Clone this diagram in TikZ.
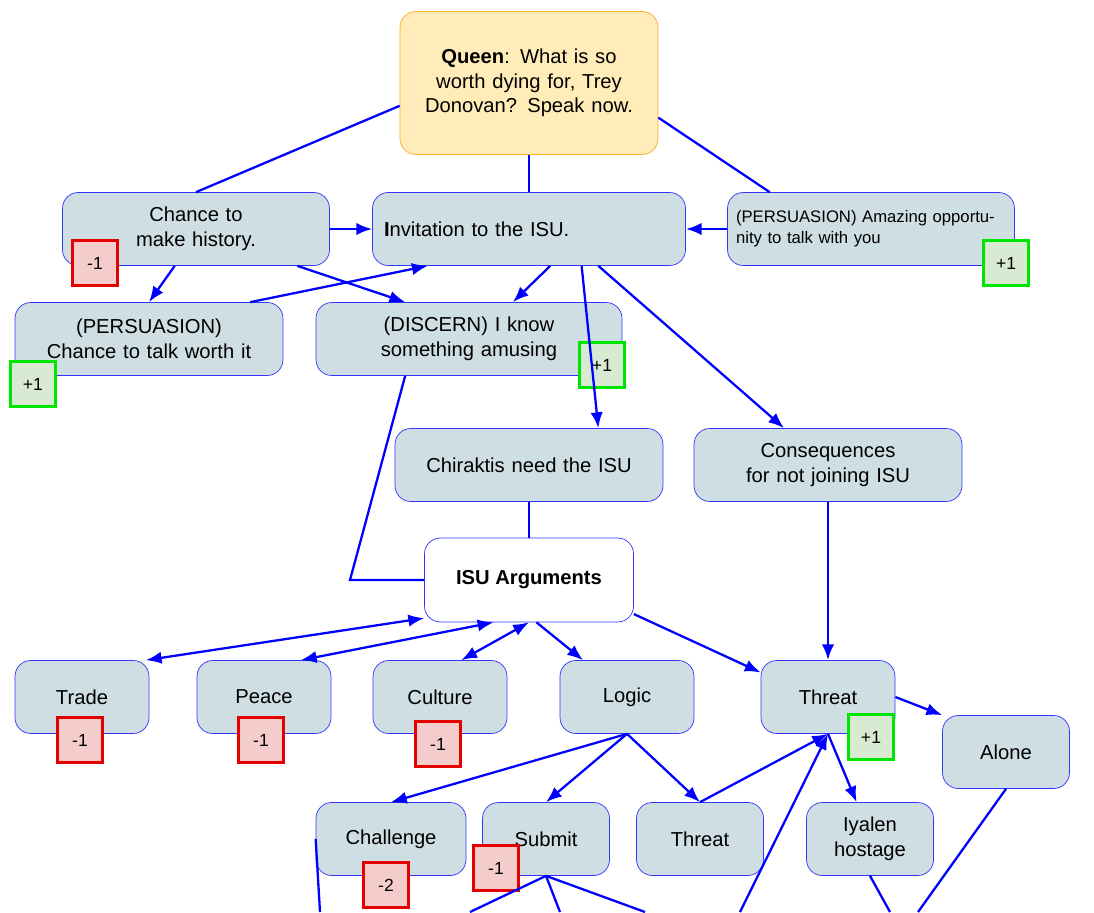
\documentclass[tikz,border=0pt]{standalone}
\usepackage{fontspec}
\setmainfont{Liberation Sans}
\usetikzlibrary{positioning}
\usetikzlibrary{arrows.meta}
\definecolor{boxfill}{RGB}{207,222,227}
\definecolor{qfill}{RGB}{255,236,184}
\definecolor{qdraw}{RGB}{255,170,40}
\definecolor{redfill}{RGB}{244,204,204}
\definecolor{greenfill}{RGB}{217,234,211}
\tikzset{>={Latex[length=9pt,width=7pt]}}
\tikzset{
  opt/.style={draw=blue!80, fill=boxfill, rounded corners=9pt, align=center,
    minimum height=1.46cm, font=\fontsize{11.5}{14}\selectfont},
  loss/.style={draw=red!90!black, line width=1.4pt, fill=redfill, minimum size=0.9cm,
    inner sep=0pt, font=\fontsize{10}{12}\selectfont},
  gain/.style={loss, draw=green!90!black, fill=greenfill},
  link/.style={blue, line width=1.3pt}
}

\begin{document}
\begin{tikzpicture}[x=0.02cm,y=-0.02cm]
\useasboundingbox (0,0) rectangle (1094,912);

% ---------- Top ----------
\node[opt, fill=qfill, draw=qdraw, minimum width=5.16cm, minimum height=2.86cm,
  text width=4.4cm] (queen) at (529,83)
  {\textbf{Queen}: What is so worth dying for, Trey Donovan? Speak now.};

\node[opt, minimum width=5.34cm, text width=4.2cm] (history) at (196,229) {Chance to make history.};
\node[opt, minimum width=6.26cm, text width=5.8cm, align=left] (invite) at (529,229) {\textbf{I}nvitation to the ISU.};
\node[opt, minimum width=5.74cm, text width=5.4cm, align=left,
  font=\fontsize{9.5}{12}\selectfont] (amazing) at (871,229)
  {(PERSUASION) Amazing opportunity to talk with you};
\node[opt, minimum width=5.36cm, text width=5cm] (worth) at (149,339) {(PERSUASION) Chance to talk worth it};
\node[opt, minimum width=6.12cm, text width=4.6cm] (discern) at (469,339) {(DISCERN) I know something amusing};

% ---------- Middle ----------
\node[opt, minimum width=5.36cm, text width=4.4cm] (need) at (529,465) {Chiraktis need the ISU};
\node[opt, minimum width=5.36cm, text width=5cm] (conseq) at (828,465) {Consequences for not joining ISU};
\node[opt, fill=white, minimum width=4.18cm, minimum height=1.68cm] (args) at (529,580) {\textbf{ISU Arguments}};

% ---------- Arguments ----------
\node[opt, minimum width=2.68cm] (trade) at (82,697) {Trade};
\node[opt, minimum width=2.68cm] (peace) at (264,697) {Peace};
\node[opt, minimum width=2.68cm] (culture) at (440,697) {Culture};
\node[opt, minimum width=2.68cm] (logic) at (627,697) {Logic};
\node[opt, minimum width=2.68cm] (threat) at (828,697) {Threat};
\node[opt, minimum width=2.54cm] (alone) at (1006,752) {Alone};
\node[opt, minimum width=3cm] (challenge) at (391,839) {Challenge};
\node[opt, minimum width=2.54cm] (submit) at (546,839) {Submit};
\node[opt, minimum width=2.54cm] (threatb) at (700,839) {Threat};
\node[opt, minimum width=2.54cm, text width=2.2cm] (hostage) at (870,839) {Iyalen hostage};

% ---------- Scores ----------
\node[loss] (s1) at (95,263) {-1};
\node[gain] (s2) at (1006,263) {+1};
\node[gain] (s3) at (33,384) {+1};
\node[gain] (s4) at (602,365) {+1};
\node[loss] (s5) at (80,740) {-1};
\node[loss] (s6) at (261,740) {-1};
\node[loss] (s7) at (438,744) {-1};
\node[gain] (s8) at (871,737) {+1};
\node[loss] (s9) at (386,885) {-2};
\node[loss] (s10) at (496,868) {-1};

% ---------- Links ----------
\draw[link] (queen.190) -- (history.north);
\draw[link] (queen.south) -- (invite.north);
\draw[link] (queen.-15) -- (amazing.160);
\draw[link, ->] (history.east) -- (invite.west);
\draw[link, ->] (amazing.west) -- (invite.east);
\draw[link, ->] (history.-120) -- (worth.north);
\draw[link, ->] (history.-20) -- (discern.150);
\draw[link, ->] (worth.20) -- (invite.-160);
\draw[link, ->] (invite.-60) -- (discern.40);
\draw[link, ->] (invite.-35) -- (need.28);
\draw[link, ->] (invite.-28) -- (conseq.140);
\draw[link] (discern.-150) -- (350,580) -- (args.west);
\draw[link] (need.south) -- (args.north);
\draw[link, ->] (conseq.south) -- (threat.north);

\draw[link, <->] (args.-160) -- (trade.30);
\draw[link, <->] (args.-130) -- (peace.45);
\draw[link, <->] (culture.60) -- (args.-90);
\draw[link, ->] (args.-80) -- (logic.140);
\draw[link, ->] (args.-18) -- (threat.160);
\draw[link, ->] (threat.east) -- (alone.150);
\draw[link, ->] (logic.south) -- (challenge.north);
\draw[link, ->] (logic.south) -- (submit.north);
\draw[link, ->] (logic.south) -- (threatb.north);
\draw[link, ->] (threatb.north) -- (threat.south);
\draw[link, ->] (threat.south) -- (hostage.110);

% ---------- Cut off at bottom ----------
\coordinate (b1) at (320,912);
\coordinate (b2) at (470,912);
\coordinate (b3) at (560,912);
\coordinate (b4) at (645,912);
\coordinate (b5) at (740,912);
\coordinate (b6) at (890,912);
\coordinate (b7) at (918,912);
\draw[link] (challenge.west) -- (b1);
\draw[link] (submit.south) -- (b2);
\draw[link] (submit.south) -- (b3);
\draw[link] (submit.south) -- (b4);
\draw[link, ->] (b5) -- (threat.south);
\draw[link] (hostage.south) -- (b6);
\draw[link] (alone.south) -- (b7);
\end{tikzpicture}
\end{document}
